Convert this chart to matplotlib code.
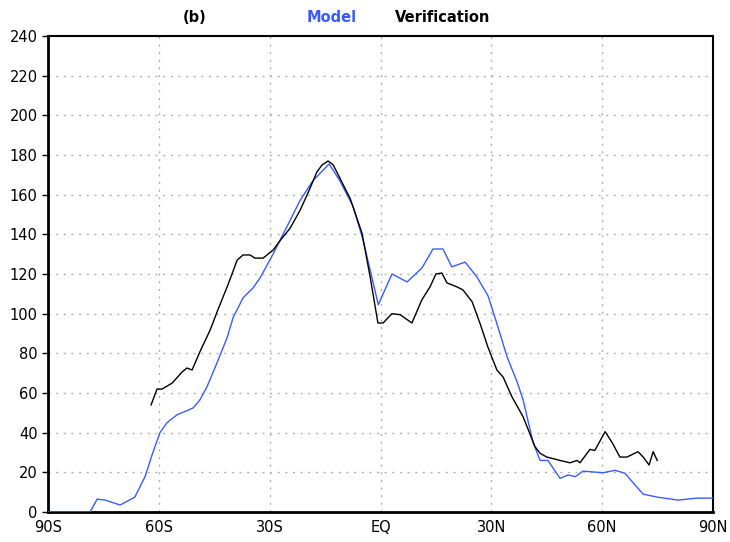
import numpy as np
import matplotlib
matplotlib.use('Agg')
import matplotlib.pyplot as plt

# zonal profiles, latitude in degrees (negative = south)
model_lat = [-90, -80, -78.6, -76.7, -74.5, -70.5, -66.5, -63.7, -61.8, -59.7, -57.8,
             -55.1, -52.5, -50.7, -48.9, -47.0, -44.3, -41.5, -39.9, -37.2, -34.5,
             -32.6, -29.1, -25.3, -21.8, -18.3, -13.9, -11.0, -7.4, -4.7, -2.8, -0.6,
             3.1, 7.2, 11.2, 14.2, 16.9, 19.3, 22.9, 26.1, 29.1, 31.5, 34.3, 37.0,
             38.6, 41.3, 43.2, 45.3, 48.6, 50.8, 52.7, 54.8, 60.2, 63.5, 66.2, 68.4,
             71.1, 74.9, 80.5, 85.7, 90]
model_val = [0, 0, 0, 6.5, 6.0, 3.5, 7.5, 18, 29, 40, 45,
             49, 51, 52.5, 56.5, 63, 75, 88, 98, 108, 113,
             118, 130, 144, 157, 167, 175.5, 167, 154, 137, 122, 104.5,
             120, 116, 123, 132.6, 132.6, 123.6, 126, 118.5, 109, 95, 78, 65.5,
             56.5, 35, 26, 26, 17, 18.7, 17.8, 20.6, 19.8, 21, 19.5, 14.7,
             9, 7.5, 6, 7, 7]

verif_lat = [-62.1, -60.5, -59.1, -56.4, -53.7, -52.4, -51.0, -48.9, -46.1, -44.0,
             -41.3, -38.8, -37.2, -35.3, -34.0, -31.8, -29.1, -26.7, -24.5, -21.8,
             -19.6, -17.2, -15.8, -14.2, -12.8, -8.2, -5.0, -2.8, -0.7, 0.7, 3.1,
             5.3, 8.5, 11.2, 13.4, 15.0, 16.6, 18.0, 20.7, 22.3, 24.8, 26.9, 29.1,
             31.5, 33.2, 35.6, 38.6, 41.8, 43.2, 45.0, 48.6, 51.3, 53.2, 54.0,
             56.7, 58.0, 60.8, 62.7, 64.8, 66.7, 69.7, 71.1, 72.7, 73.8, 74.9]
verif_val = [54, 62, 62, 65, 70.6, 72.6, 71.6, 80.7, 91.8, 102,
             114.5, 127, 129.6, 129.6, 128, 128, 132, 138, 143, 152,
             161, 171.5, 175, 177, 175, 158, 140.5, 118.5, 95.3, 95.3, 100,
             99.5, 95.3, 107, 113.5, 120, 120.5, 115.5, 113.5, 112, 106, 95.3, 83,
             71.6, 68, 58, 48, 33, 29.6, 27.7, 26, 24.8, 26, 24.8,
             31.6, 31, 40.5, 35, 27.7, 27.7, 30.4, 27.7, 23.7, 30.4, 26]

xticks = [-90, -60, -30, 0, 30, 60, 90]
xlabels = ['90S', '60S', '30S', 'EQ', '30N', '60N', '90N']
yticks = list(range(0, 241, 20))

blue = '#3a5cff'

fig = plt.figure(figsize=(7.3, 5.42), dpi=100)
ax = fig.add_axes([48 / 730, 30 / 542, 665 / 730, 476 / 542])

ax.plot(model_lat, model_val, color=blue, lw=1.0, zorder=3)
ax.plot(verif_lat, verif_val, color='black', lw=1.0, zorder=3)

ax.set_xlim(-90, 90)
ax.set_ylim(0, 240)
ax.set_xticks(xticks)
ax.set_xticklabels(xlabels)
ax.set_yticks(yticks)
ax.tick_params(axis='both', labelsize=10.5, length=4, width=1, direction='out')
ax.tick_params(axis='x', length=0, pad=6)
ax.grid(True, color='#b0b0b0', ls=(0, (1.5, 4)), lw=1.0)

for side in ['left', 'bottom']:
    ax.spines[side].set_linewidth(2.0)
for side in ['top', 'right']:
    ax.spines[side].set_linewidth(1.5)
    ax.spines[side].set_linestyle((0, (3, 1)))

fig.text(195 / 730, 1 - 17 / 542, '(b)', ha='center', va='center',
         fontsize=10.5, fontweight='bold')
fig.text(332 / 730, 1 - 17 / 542, 'Model', ha='center', va='center',
         fontsize=10.5, fontweight='bold', color=blue)
fig.text(443 / 730, 1 - 17 / 542, 'Verification', ha='center', va='center',
         fontsize=10.5, fontweight='bold', color='black')

fig.savefig('out.png', dpi=100)
